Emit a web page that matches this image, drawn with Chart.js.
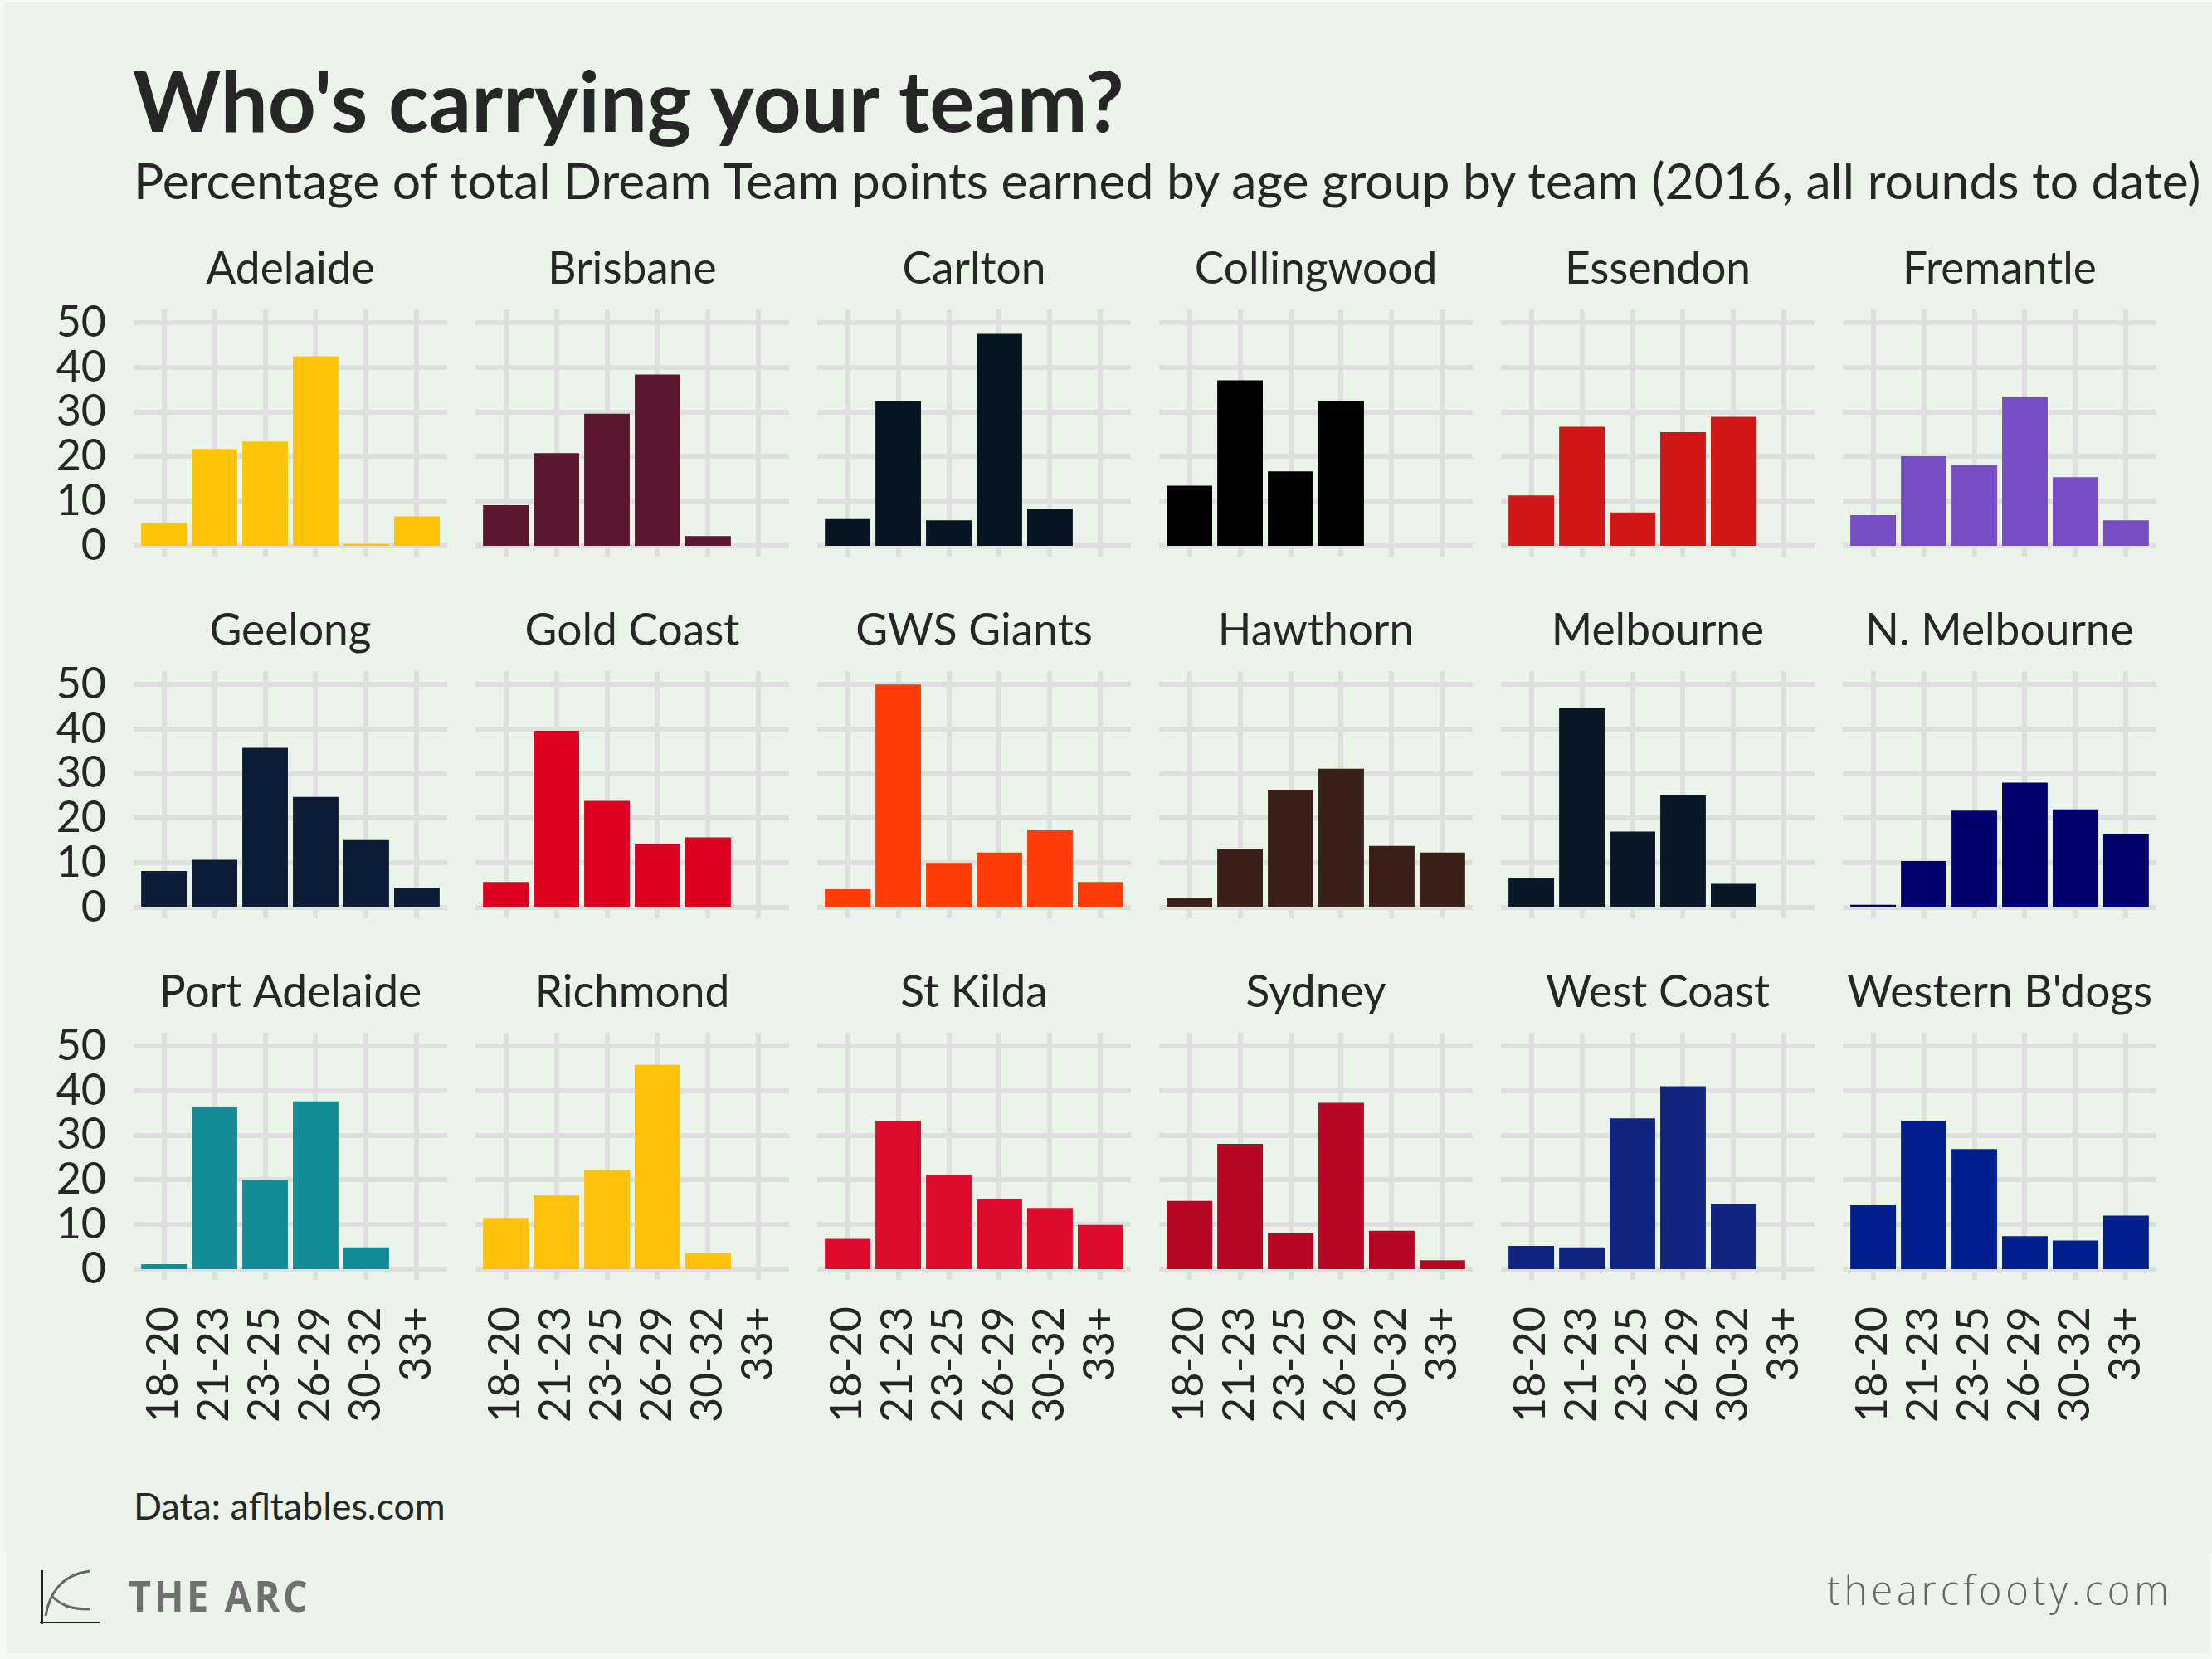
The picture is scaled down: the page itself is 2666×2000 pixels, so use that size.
<!DOCTYPE html>
<html>
<head>
<meta charset="utf-8">
<script src="https://cdn.jsdelivr.net/npm/chart.js@4"></script>
<style>
   html, body { margin: 0; padding: 0; background: #f5faf5; }
   #page { position: relative; width: 2666px; height: 2000px; overflow: hidden; font-family: Lato, sans-serif; color: #262626; }
   #main { position: absolute; left: 5px; top: 3px; width: 2661px; height: 1869px; background: #eaf4e9; }
   #strip { position: absolute; left: 8px; top: 1872px; width: 2655px; height: 121px; background: #eaf4e9; }
   canvas { position: absolute; }
   .txt { position: absolute; white-space: nowrap; line-height: 1; }
   #title { left: 160px; top: 70px; font-size: 101.3px; font-weight: 700; }
   #subtitle { left: 161px; top: 187px; font-size: 60.6px; }
   #caption { left: 161px; top: 1793px; font-size: 44.8px; }
   #brand { left: 155px; top: 1897px; font-family: "Open Sans", sans-serif; font-size: 52px; font-weight: 700; color: #707070; letter-spacing: 4px; transform: scaleX(0.9); transform-origin: left top; }
   #site { left: 2202px; top: 1891px; font-family: "Open Sans", sans-serif; font-size: 50px; font-weight: 300; color: #666; letter-spacing: 5px; transform: scaleX(0.945); transform-origin: left top; }
   #logo { position: absolute; left: 45px; top: 1888px; }
</style>
</head>
<body>
<div id="page">
   <div id="main"></div>
   <div id="strip"></div>
   <div class="txt" id="title">Who's carrying your team?</div>
   <div class="txt" id="subtitle">Percentage of total Dream Team points earned by age group by team (2016, all rounds to date)</div>
   <div class="txt" id="caption">Data: afltables.com</div>
   <svg id="logo" width="80" height="76" fill="none">
      <path d="M6 5 V70 M3 68 H76" stroke="#222" stroke-width="2"/>
      <path d="M10 60 C14 35 28 10 64 6 M17 36 C30 48 40 52 64 52" stroke="#666" stroke-width="3"/>
   </svg>
   <div class="txt" id="brand">THE ARC</div>
   <div class="txt" id="site">thearcfooty.com</div>
</div>
<script>
const ageGroups = ['18-20', '21-23', '23-25', '26-29', '30-32', '33+'];
const yTickValues = [0, 10, 20, 30, 40, 50];
const teamNames = ['Adelaide', 'Brisbane', 'Carlton', 'Collingwood', 'Essendon', 'Fremantle',
   'Geelong', 'Gold Coast', 'GWS Giants', 'Hawthorn', 'Melbourne', 'N. Melbourne',
   'Port Adelaide', 'Richmond', 'St Kilda', 'Sydney', 'West Coast', "Western B'dogs"];
const teamColours = ['#fec508', '#5b172f', '#071522', '#000000', '#d01717', '#764dc3',
   '#0d1c36', '#dd0020', '#ff3c08', '#3a2016', '#081826', '#00006e',
   '#138c97', '#fec20d', '#dc0a2b', '#b80626', '#10257f', '#001f8e'];

const adelaide = [5.1, 21.7, 23.4, 42.5, 0.4, 6.6];
const brisbane = [9.1, 20.8, 29.6, 38.4, 2.2, null];
const carlton = [6, 32.4, 5.7, 47.5, 8.2, null];
const collingwood = [13.5, 37.1, 16.7, 32.4, null, null];
const essendon = [11.3, 26.7, 7.5, 25.5, 28.9, null];
const fremantle = [6.9, 20.1, 18.2, 33.3, 15.4, 5.7];
const geelong = [8.2, 10.7, 35.8, 24.8, 15.1, 4.4];
const goldCoast = [5.7, 39.6, 23.9, 14.2, 15.7, null];
const gwsGiants = [4.1, 50, 10, 12.3, 17.3, 5.7];
const hawthorn = [2.2, 13.2, 26.4, 31.1, 13.8, 12.3];
const melbourne = [6.6, 44.7, 17, 25.2, 5.3, null];
const nMelbourne = [0.6, 10.4, 21.7, 28, 22, 16.4];
const portAdelaide = [1.1, 36.3, 20, 37.6, 4.9, null];
const richmond = [11.5, 16.5, 22.2, 45.8, 3.6, null];
const stKilda = [6.8, 33.2, 21.2, 15.6, 13.7, 9.9];
const sydney = [15.3, 28.1, 8, 37.3, 8.6, 2];
const westCoast = [5.2, 4.9, 33.8, 41, 14.6, null];
const westernBulldogs = [14.3, 33.2, 26.9, 7.4, 6.4, 12];

const teamValues = [adelaide, brisbane, carlton, collingwood, essendon, fremantle,
   geelong, goldCoast, gwsGiants, hawthorn, melbourne, nMelbourne,
   portAdelaide, richmond, stKilda, sydney, westCoast, westernBulldogs];

// panel layout, in page pixels
const plotLefts = [161, 573, 985, 1397, 1809, 2221];
const plotTops = [373, 809, 1245];
const plotWidth = 378;
const plotHeight = 285;
const titleHeight = 90;
const gridColour = '#dfdfdf';
const inkColour = '#262626';

function makePanel(i){
   const col = i % 6;
   const row = Math.floor(i / 6);
   const leftGutter = col == 0 ? plotLefts[0] : 0;
   const bottomGutter = row == 2 ? 190 : 36;

   const canvas = document.createElement('canvas');
   canvas.style.left = (plotLefts[col] - leftGutter) + 'px';
   canvas.style.top = (plotTops[row] - titleHeight) + 'px';
   canvas.style.width = (plotWidth + leftGutter) + 'px';
   canvas.style.height = (titleHeight + plotHeight + bottomGutter) + 'px';
   canvas.width = plotWidth + leftGutter;
   canvas.height = titleHeight + plotHeight + bottomGutter;
   document.getElementById('page').appendChild(canvas);

   return new Chart(canvas.getContext('2d'), {
      type: 'bar',
      data: {
         datasets: [{
            data: teamValues[i].map((v, k) => ({x: k, y: v})),
            backgroundColor: teamColours[i],
            barPercentage: 0.9,
            categoryPercentage: 1,
            // not exactly 0, or Chart.js starts the bar at the edge of the grid line
            base: -0.0001
         }]
      },
      options: {
         responsive: false,
         animation: false,
         layout: { padding: 0 },
         plugins: {
            legend: { display: false },
            tooltip: { enabled: false },
            title: {
               display: true,
               text: teamNames[i],
               fullSize: false,
               color: inkColour,
               font: { family: 'Lato', size: 53.3, weight: 'normal', lineHeight: 1 },
               padding: { top: 15, bottom: 21.7 }
            }
         },
         scales: {
            x: {
               type: 'linear',
               bounds: 'data',
               offset: false,
               min: -0.6,
               max: 5.6,
               border: { display: false },
               grid: { offset: false, color: gridColour, lineWidth: 6, tickLength: 13, tickColor: gridColour },
               // keep the plot the same size in every panel, whatever the labels need
               afterFit: scale => {
                  scale.height = bottomGutter;
                  scale.paddingLeft = 0;
                  scale.paddingRight = 0;
               },
               afterBuildTicks: scale => { scale.ticks = ageGroups.map((g, k) => ({value: k})); },
               ticks: {
                  display: row == 2,
                  autoSkip: false,
                  minRotation: 90,
                  maxRotation: 90,
                  padding: 32,
                  color: inkColour,
                  font: { family: 'Lato', size: 52 },
                  callback: value => ageGroups[value]
               }
            },
            y: {
               bounds: 'data',
               min: 0,
               max: 53,
               border: { display: false },
               grid: { color: gridColour, lineWidth: 6, drawTicks: false },
               afterFit: scale => {
                  scale.width = leftGutter;
                  scale.paddingTop = 0;
                  scale.paddingBottom = 0;
               },
               afterBuildTicks: scale => { scale.ticks = yTickValues.map(v => ({value: v})); },
               ticks: {
                  display: col == 0,
                  autoSkip: false,
                  padding: 33,
                  color: inkColour,
                  font: { family: 'Lato', size: 52 }
               }
            }
         }
      }
   });
}

teamNames.forEach((name, i) => makePanel(i));
</script>
</body>
</html>
